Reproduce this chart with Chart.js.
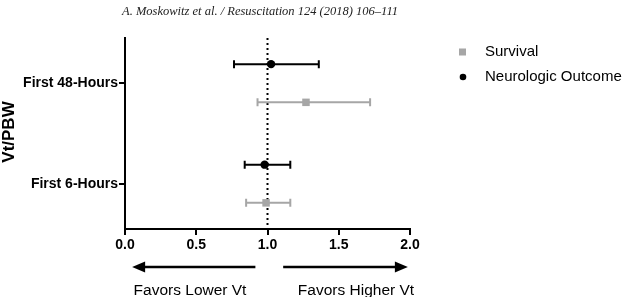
<!DOCTYPE html>
<html>
<head>
<meta charset="utf-8">
<script src="https://cdn.jsdelivr.net/npm/chart.js@4.4.0/dist/chart.umd.min.js"></script>
<style>
  html, body { margin: 0; padding: 0; background: #fff; }
  #wrap { width: 625px; height: 297px; position: relative; }
</style>
</head>
<body>
<div id="wrap"><canvas id="forestChart"></canvas></div>
<script>
// rows, bottom to top
const rows = ['First 6-Hours', 'First 48-Hours'];
const xTicks = [0, 0.5, 1.0, 1.5, 2.0];

const survivalEst = [0.99, 1.27];
const survivalLo = [0.85, 0.93];
const survivalHi = [1.16, 1.72];

const neuroEst = [0.98, 1.025];
const neuroLo = [0.84, 0.765];
const neuroHi = [1.16, 1.36];

const FONT = "'Liberation Sans', Arial, sans-serif";
const GREY = '#a6a6a6';

function buildPoints(est, lo, hi, offset) {
    return est.map(function (v, i) {
        return { x: v, y: i + 1 + offset, lo: lo[i], hi: hi[i] };
    });
}

// horizontal whiskers with caps, drawn under the markers
const errorBars = {
    id: 'errorBars',
    beforeDatasetsDraw(chart) {
        const ctx = chart.ctx;
        const xs = chart.scales.x, ys = chart.scales.y;
        chart.data.datasets.forEach(function (ds) {
            ctx.save();
            ctx.strokeStyle = ds.barColor;
            ctx.lineWidth = 2;
            ds.data.forEach(function (p) {
                const y = ys.getPixelForValue(p.y);
                const x1 = xs.getPixelForValue(p.lo);
                const x2 = xs.getPixelForValue(p.hi);
                ctx.beginPath();
                ctx.moveTo(x1, y); ctx.lineTo(x2, y);
                ctx.moveTo(x1, y - 4); ctx.lineTo(x1, y + 4);
                ctx.moveTo(x2, y - 4); ctx.lineTo(x2, y + 4);
                ctx.stroke();
            });
            ctx.restore();
        });
    }
};

// dotted line of no effect at 1.0
const refLine = {
    id: 'refLine',
    beforeDatasetsDraw(chart) {
        const ctx = chart.ctx;
        const a = chart.chartArea;
        const x = chart.scales.x.getPixelForValue(1);
        ctx.save();
        ctx.strokeStyle = '#000';
        ctx.lineWidth = 2;
        ctx.setLineDash([2, 3]);
        ctx.beginPath();
        ctx.moveTo(x, a.top);
        ctx.lineTo(x, a.bottom);
        ctx.stroke();
        ctx.restore();
    }
};

// header, legend, arrows and captions
const extras = {
    id: 'extras',
    afterDraw(chart) {
        const ctx = chart.ctx;
        const a = chart.chartArea;
        const xs = chart.scales.x;
        ctx.save();

        ctx.fillStyle = '#222';
        ctx.font = "italic 12.5px 'Liberation Serif', 'DejaVu Serif', serif";
        ctx.textAlign = 'center';
        ctx.textBaseline = 'middle';
        ctx.fillText('A. Moskowitz et al. / Resuscitation 124 (2018) 106\u2013111', 260, 12);

        // legend
        ctx.textAlign = 'left';
        ctx.font = '15px ' + FONT;
        chart.data.datasets.forEach(function (ds, i) {
            const y = 52 + i * 25;
            ctx.fillStyle = ds.backgroundColor;
            if (ds.pointStyle === 'rect') {
                ctx.fillRect(459, y - 3.5, 7, 7);
            } else {
                ctx.beginPath();
                ctx.arc(463, y, 3.3, 0, Math.PI * 2);
                ctx.fill();
            }
            ctx.fillStyle = '#000';
            ctx.fillText(ds.label, 485, y);
        });

        // arrows
        const ay = a.bottom + 38;
        ctx.strokeStyle = '#000';
        ctx.fillStyle = '#000';
        ctx.lineWidth = 2.5;
        function arrow(from, to) {
            const x1 = xs.getPixelForValue(from);
            const x2 = xs.getPixelForValue(to);
            const dir = x2 > x1 ? 1 : -1;
            ctx.beginPath();
            ctx.moveTo(x1, ay);
            ctx.lineTo(x2 - dir * 10, ay);
            ctx.stroke();
            ctx.beginPath();
            ctx.moveTo(x2, ay);
            ctx.lineTo(x2 - dir * 13, ay - 5.5);
            ctx.lineTo(x2 - dir * 13, ay + 5.5);
            ctx.closePath();
            ctx.fill();
        }
        arrow(0.915, 0.05);
        arrow(1.11, 1.985);

        ctx.font = '15.5px ' + FONT;
        ctx.textAlign = 'center';
        ctx.fillText('Favors Lower Vt', 190, a.bottom + 62);
        ctx.fillText('Favors Higher Vt', 356, a.bottom + 62);

        // y axis title
        ctx.font = 'bold 17px ' + FONT;
        ctx.translate(9, 132);
        ctx.rotate(-Math.PI / 2);
        ctx.fillText('Vt/PBW', 0, 0);
        ctx.restore();
    }
};

new Chart(document.getElementById('forestChart'), {
    type: 'scatter',
    data: {
        datasets: [
            {
                label: 'Survival',
                data: buildPoints(survivalEst, survivalLo, survivalHi, -0.19),
                backgroundColor: GREY,
                borderColor: GREY,
                barColor: GREY,
                pointStyle: 'rect',
                pointRadius: 5.3,
                borderWidth: 0
            },
            {
                label: 'Neurologic Outcome',
                data: buildPoints(neuroEst, neuroLo, neuroHi, 0.19),
                backgroundColor: '#000',
                borderColor: '#000',
                barColor: '#000',
                pointStyle: 'circle',
                pointRadius: 4.2,
                borderWidth: 0
            }
        ]
    },
    options: {
        responsive: true,
        maintainAspectRatio: false,
        animation: false,
        layout: { padding: { top: 38, right: 215, left: 0, bottom: 0 } },
        plugins: {
            legend: { display: false },
            tooltip: { enabled: false }
        },
        scales: {
            x: {
                min: 0,
                max: 2,
                afterBuildTicks: function (scale) {
                    scale.ticks = xTicks.map(function (v) { return { value: v }; });
                },
                afterFit: function (scale) { scale.height = 68; },
                ticks: {
                    color: '#000',
                    padding: 2,
                    font: { family: FONT, size: 14, weight: 'bold' },
                    callback: function (v) { return Number(v).toFixed(1); }
                },
                grid: { drawOnChartArea: false, drawTicks: true, tickLength: 6, color: '#000', lineWidth: 2 },
                border: { color: '#000', width: 2 }
            },
            y: {
                min: 0.55,
                max: 2.45,
                afterBuildTicks: function (scale) {
                    scale.ticks = rows.map(function (r, i) { return { value: i + 1 }; });
                },
                afterFit: function (scale) { scale.width = 125; },
                ticks: {
                    color: '#000',
                    padding: 1,
                    font: { family: FONT, size: 14, weight: 'bold' },
                    callback: function (v) { return rows[v - 1]; }
                },
                grid: { drawOnChartArea: false, drawTicks: true, tickLength: 6, color: '#000', lineWidth: 2 },
                border: { color: '#000', width: 2 }
            }
        }
    },
    plugins: [refLine, errorBars, extras]
});
</script>
</body>
</html>
